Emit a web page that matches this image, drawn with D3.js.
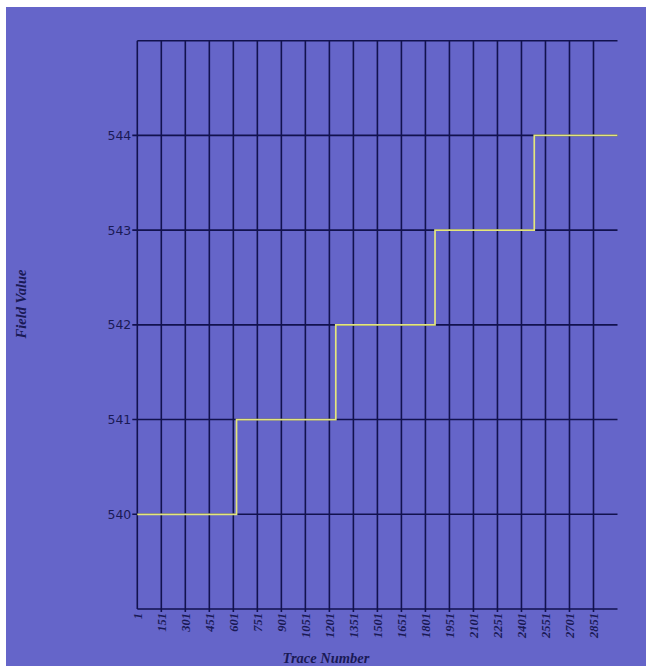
<!DOCTYPE html>
<html lang="en">
<head>
    <meta charset="UTF-8">
    <title>Field Value by Trace</title>
    <script src="https://d3js.org/d3.v7.min.js"></script>
    <style>
        body { margin: 0; background: #ffffff; }
        .ylab { font-family: "DejaVu Sans", sans-serif; font-size: 12.5px; fill: #1a1a55; }
        .xlab { font-family: "Liberation Serif", serif; font-size: 12.5px; font-weight: bold; font-style: italic; fill: #1a1a55; }
        .title { font-family: "Liberation Serif", serif; font-size: 14.5px; font-weight: bold; font-style: italic; fill: #1a1a55; }
    </style>
</head>
<body>
<div id="fig"></div>
<script>
    // step data: trace number where field value changes
    let step_traces = [1, 621, 1241, 1861, 2481, 3001]
    let step_values = [540, 541, 542, 543, 544, 544]
    let x_ticks = d3.range(1, 3000, 150)   // 1, 151, ... 2851
    let y_ticks = [540, 541, 542, 543, 544]

    let w = 646, h = 666
    let m_left = 137.3, m_right = 617.5, m_top = 40.7, m_bottom = 609

    let svg = d3.select("#fig").append("svg")
        .attr("width", w).attr("height", h)

    svg.append("rect")
        .attr("x", 6).attr("y", 7)
        .attr("width", w - 6).attr("height", h - 7)
        .attr("fill", "#6565c9")

    let xScale = d3.scaleLinear().domain([1, 3001]).range([m_left, m_right])
    let yScale = d3.scaleLinear().domain([539, 545]).range([m_bottom, m_top])

    let grid = svg.append("g").attr("stroke", "#12124e").attr("stroke-width", 1.6)

    // vertical gridlines (through tick positions)
    grid.selectAll(".vg").data(x_ticks.slice(1)).enter()
        .append("line")
        .attr("x1", d => xScale(d)).attr("x2", d => xScale(d))
        .attr("y1", m_top).attr("y2", m_bottom + 3)

    // horizontal gridlines
    grid.selectAll(".hg").data(y_ticks).enter()
        .append("line")
        .attr("x1", m_left - 5).attr("x2", m_right)
        .attr("y1", d => yScale(d)).attr("y2", d => yScale(d))

    // frame: top, left, bottom
    grid.append("line").attr("x1", m_left).attr("x2", m_right).attr("y1", m_top).attr("y2", m_top)
    grid.append("line").attr("x1", m_left).attr("x2", m_left).attr("y1", m_top).attr("y2", m_bottom)
    grid.append("line").attr("x1", m_left).attr("x2", m_right).attr("y1", m_bottom).attr("y2", m_bottom)

    // y tick labels
    svg.selectAll(".ylab").data(y_ticks).enter()
        .append("text").attr("class", "ylab")
        .attr("x", m_left - 6)
        .attr("y", d => yScale(d))
        .attr("dy", "0.35em")
        .attr("text-anchor", "end")
        .text(d => d)

    // x tick labels (rotated)
    svg.selectAll(".xlab").data(x_ticks).enter()
        .append("text").attr("class", "xlab")
        .attr("transform", d => `translate(${xScale(d)},${m_bottom + 4}) rotate(-90)`)
        .attr("dy", "0.35em")
        .attr("text-anchor", "end")
        .text(d => d)

    // step line
    let pts = step_traces.map((t, i) => [t, step_values[i]])
    let line = d3.line()
        .x(d => xScale(d[0]))
        .y(d => yScale(d[1]))
        .curve(d3.curveStepAfter)
    svg.append("path")
        .attr("d", line(pts))
        .attr("fill", "none")
        .attr("stroke", "#e4e67c")
        .attr("stroke-width", 1.7)

    svg.append("text").attr("class", "title")
        .attr("x", 326).attr("y", 663)
        .attr("text-anchor", "middle")
        .text("Trace Number")

    svg.append("text").attr("class", "title")
        .attr("transform", "translate(26,304) rotate(-90)")
        .attr("text-anchor", "middle")
        .text("Field Value")
</script>
</body>
</html>
